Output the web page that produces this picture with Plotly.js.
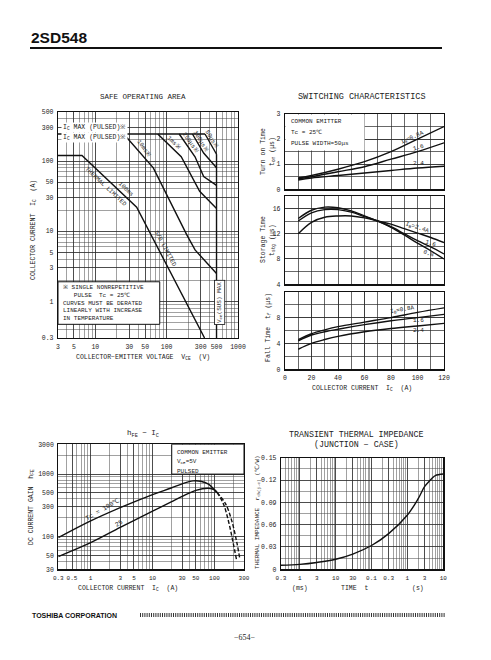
<!DOCTYPE html>
<html><head><meta charset="utf-8">
<script src="https://cdn.plot.ly/plotly-3.0.1.min.js"></script>
<style>html,body{margin:0;padding:0;background:#fff}#chart{width:491px;height:660px}</style>
</head><body><div id="chart"></div>
<script>
// ================= DATA =================
// SAFE OPERATING AREA  (V_CE in V, I_C in A)
const soaDC_V    = [3, 6.5, 38, 340];
const soaDC_I    = [120, 120, 22, 0.3];
const soa10ms_V  = [25, 65, 190, 250, 500];
const soa10ms_I  = [243, 80, 9, 5.4, 2.5];
const soa1ms_V   = [75, 160, 290, 500];
const soa1ms_I   = [243, 115, 37, 21];
const soa250us_V = [150, 250, 330, 500];
const soa250us_I = [243, 115, 60, 45];
const soa100us_V = [230, 330, 500];
const soa100us_I = [243, 130, 80];
const soa50us_V  = [345, 500];
const soa50us_I  = [243, 125];
const soaPulse_V = [3, 345];
const soaPulse_I = [243, 243];
const soaSus_V   = [500, 500];
const soaSus_I   = [0.3, 125];
const soaXTicks  = [3, 5, 10, 30, 50, 100, 300, 500, 1000];
const soaYTicks  = [0.3, 1, 3, 5, 10, 30, 50, 100, 300, 500];

// SWITCHING CHARACTERISTICS  (I_C in A)
const swTon_I   = [10, 20, 40, 60, 80, 100, 120];
const ton_08    = [0.45, 0.55, 0.80, 1.10, 1.50, 2.00, 2.50];
const ton_16    = [0.42, 0.50, 0.70, 0.90, 1.20, 1.50, 1.85];
const ton_24    = [0.37, 0.45, 0.55, 0.65, 0.75, 0.85, 0.92];
const swTstg_I  = [10, 20, 30, 40, 50, 60, 70, 80, 90, 100, 110, 120];
const tstg_08   = [14.4, 15.7, 16.2, 16.1, 15.6, 14.8, 14.0, 13.0, 11.8, 10.5, 9.3, 8.0];
const tstg_16   = [14.0, 15.3, 15.8, 15.8, 15.4, 14.7, 14.0, 13.1, 12.0, 10.9, 9.9, 8.8];
const tstg_24   = [12.0, 13.8, 14.6, 14.8, 14.8, 14.5, 14.0, 13.5, 12.8, 12.1, 11.4, 10.6];
const swTf_I    = [10, 20, 30, 40, 60, 80, 100, 120];
const tf_08     = [4.6, 5.5, 6.1, 6.6, 7.3, 8.0, 8.8, 9.5];
const tf_16     = [4.4, 5.3, 5.8, 6.2, 6.9, 7.5, 8.0, 8.5];
const tf_24     = [3.1, 4.0, 4.6, 5.1, 5.8, 6.3, 6.7, 7.1];

// hFE - IC
const hfe100_I     = [0.3, 1, 3, 10, 20, 30, 45, 60, 80, 100, 110];
const hfe100       = [96, 178, 290, 470, 600, 700, 780, 770, 690, 560, 510];
const hfe100Dash_I = [110, 140, 170, 200, 228];
const hfe100Dash   = [510, 330, 170, 80, 42];
const hfe25_I      = [0.3, 1, 3, 10, 20, 30, 50, 80, 100, 110];
const hfe25        = [48, 80, 140, 255, 360, 440, 550, 595, 560, 510];
const hfe25Dash_I  = [110, 150, 190, 230, 258];
const hfe25Dash    = [510, 340, 180, 80, 43];
const hfeXTicks    = [0.3, 0.5, 1, 3, 5, 10, 30, 50, 100, 300];
const hfeYTicks    = [30, 50, 100, 300, 500, 1000, 3000];

// TRANSIENT THERMAL IMPEDANCE  (t in s, r in C/W)
const rth_t = [0.0003, 0.001, 0.003, 0.01, 0.03, 0.1, 0.3, 1, 2, 3, 4, 5, 6, 10];
const rth   = [0.0054, 0.0066, 0.0092, 0.0135, 0.0205, 0.032, 0.048, 0.073, 0.095, 0.111, 0.118, 0.123, 0.126, 0.128];
const rthXTicks = [0.0003, 0.001, 0.003, 0.01, 0.03, 0.1, 0.3, 1, 3, 10];
const rthXText  = ["0.3", "1", "3", "10", "30", "0.1", "0.3", "1", "3", "10"];

// ================= DRAWING =================
const MONO = "Liberation Mono, DejaVu Sans Mono, monospace";
const W = 491, H = 660;
const fx = p => p / W, fy = p => 1 - p / H;
const lg = Math.log10;
function logGrid(lo, hi) {
  const out = [];
  for (let e = -5; e <= 4; e++) for (let k = 1; k < 10; k++) {
    const v = +(k * Math.pow(10, e)).toPrecision(6);
    if (v >= lo * 0.999 && v <= hi * 1.001) out.push(v);
  }
  return out;
}
function ax(extra) {
  return Object.assign({
    showline: true, mirror: true, linecolor: '#111', linewidth: 1.2, ticks: '', tickangle: 0,
    showgrid: true, gridcolor: '#2a2a2a', gridwidth: 0.7, zeroline: false,
    tickfont: {family: MONO, size: 6.5, color: '#222'}, fixedrange: true, ticklabelstandoff: 2
  }, extra);
}
const minorLog = (lo, hi) => ({tickmode: 'array', tickvals: logGrid(lo, hi), showgrid: true, gridcolor: '#444', gridwidth: 0.5, ticks: ''});
const LN = {color: '#111', width: 1.4};
function tr(x, y, xa, ya, extra) {
  return Object.assign({x: x, y: y, xaxis: xa, yaxis: ya, mode: 'lines', line: LN, hoverinfo: 'skip', showlegend: false}, extra || {});
}
const SP = Object.assign({shape: 'spline'}, LN);
const DASH = {color: '#111', width: 1.4, dash: '4px,2px', shape: 'spline'};

const traces = [
  // SOA
  tr(soaPulse_V, soaPulse_I, 'x', 'y'),
  tr(soaDC_V, soaDC_I, 'x', 'y'),
  tr(soa10ms_V, soa10ms_I, 'x', 'y'),
  tr(soa1ms_V, soa1ms_I, 'x', 'y'),
  tr(soa250us_V, soa250us_I, 'x', 'y'),
  tr(soa100us_V, soa100us_I, 'x', 'y'),
  tr(soa50us_V, soa50us_I, 'x', 'y'),
  tr(soaSus_V, soaSus_I, 'x', 'y'),
  // switching
  tr(swTon_I, ton_08, 'x2', 'y2', {line: SP}),
  tr(swTon_I, ton_16, 'x2', 'y2', {line: SP}),
  tr(swTon_I, ton_24, 'x2', 'y2', {line: SP}),
  tr(swTstg_I, tstg_08, 'x3', 'y3', {line: SP}),
  tr(swTstg_I, tstg_16, 'x3', 'y3', {line: SP}),
  tr(swTstg_I, tstg_24, 'x3', 'y3', {line: SP}),
  tr(swTf_I, tf_08, 'x4', 'y4', {line: SP}),
  tr(swTf_I, tf_16, 'x4', 'y4', {line: SP}),
  tr(swTf_I, tf_24, 'x4', 'y4', {line: SP}),
  // hFE
  tr(hfe100_I, hfe100, 'x5', 'y5', {line: SP}),
  tr(hfe100Dash_I, hfe100Dash, 'x5', 'y5', {line: DASH}),
  tr(hfe25_I, hfe25, 'x5', 'y5', {line: SP}),
  tr(hfe25Dash_I, hfe25Dash, 'x5', 'y5', {line: DASH}),
  // thermal
  tr(rth_t, rth, 'x6', 'y6', {line: SP})
];

const swX = [fx(285), fx(444)];
const linMinor = d => ({dtick: d, showgrid: true, gridcolor: '#2a2a2a', gridwidth: 0.7});
const layout = {
  width: W, height: H, margin: {l: 0, r: 0, t: 0, b: 0},
  paper_bgcolor: '#fff', plot_bgcolor: '#fff', showlegend: false,
  font: {family: MONO, color: '#222', size: 6.5},
  // SOA
  xaxis: ax({type: 'log', domain: [fx(58), fx(238)], range: [lg(3), 3], anchor: 'y',
    tickmode: 'array', tickvals: soaXTicks, ticktext: soaXTicks.map(String), minor: minorLog(3, 1000)}),
  yaxis: ax({type: 'log', domain: [fy(338), fy(112)], range: [lg(0.3), lg(500)], anchor: 'x',
    tickmode: 'array', tickvals: soaYTicks, ticktext: soaYTicks.map(String), minor: minorLog(0.3, 500)}),
  // switching top
  xaxis2: ax({domain: swX, range: [0, 120], anchor: 'y2', showticklabels: false, dtick: 10}),
  yaxis2: ax({domain: [fy(189.3), fy(114)], range: [0, 3], anchor: 'x2', tickvals: [0, 1, 2, 3], minor: linMinor(0.5)}),
  // switching mid
  xaxis3: ax({domain: swX, range: [0, 120], anchor: 'y3', showticklabels: false, dtick: 10}),
  yaxis3: ax({domain: [fy(284.3), fy(195.7)], range: [4, 18], anchor: 'x3', tickvals: [4, 8, 12, 16], minor: linMinor(2)}),
  // switching bottom
  xaxis4: ax({domain: swX, range: [0, 120], anchor: 'y4', tickvals: [0, 20, 40, 60, 80, 100, 120], minor: linMinor(10)}),
  yaxis4: ax({domain: [fy(369.3), fy(291.7)], range: [0, 12], anchor: 'x4', tickvals: [0, 4, 8], minor: linMinor(2)}),
  // hFE
  xaxis5: ax({type: 'log', domain: [fx(58.3), fx(244)], range: [lg(0.3), lg(300)], anchor: 'y5',
    tickmode: 'array', tickvals: hfeXTicks, ticktext: hfeXTicks.map(String), minor: minorLog(0.3, 300),
    tickfont: {family: MONO, size: 6, color: '#222'}}),
  yaxis5: ax({type: 'log', domain: [fy(569.3), fy(444.3)], range: [lg(30), lg(3000)], anchor: 'x5',
    tickmode: 'array', tickvals: hfeYTicks, ticktext: hfeYTicks.map(String), minor: minorLog(30, 3000)}),
  // thermal
  xaxis6: ax({type: 'log', domain: [fx(281), fx(443.3)], range: [lg(0.0003), 1], anchor: 'y6',
    tickmode: 'array', tickvals: rthXTicks, ticktext: rthXText, minor: minorLog(0.0003, 10),
    tickfont: {family: MONO, size: 6, color: '#222'}}),
  yaxis6: ax({domain: [fy(569.3), fy(457.7)], range: [0, 0.15], anchor: 'x6',
    tickvals: [0, 0.03, 0.06, 0.09, 0.12, 0.15], ticktext: ['0', '0.03', '0.06', '0.09', '0.12', '0.15'],
    minor: {dtick: 0.015, showgrid: true, gridcolor: '#444', gridwidth: 0.5}}),
  shapes: [
    // header rule
    {type: 'line', xref: 'paper', yref: 'paper', x0: fx(30), x1: fx(442), y0: fy(48), y1: fy(48), line: {color: '#111', width: 2}},
    // footer hatch
    {type: 'line', xref: 'paper', yref: 'paper', x0: fx(140), x1: fx(445), y0: fy(615), y1: fy(615), line: {color: '#333', width: 4, dash: '1px,1.2px'}},
    // SOA note box
    {type: 'rect', xref: 'x', yref: 'y', x0: 3, x1: 80, y0: 0.47, y1: 1.9, fillcolor: '#fff', line: {color: '#111', width: 1}, layer: 'between'},
    // switching text area
    {type: 'rect', xref: 'x2', yref: 'y2', x0: 0.3, x1: 60, y0: 1.55, y1: 2.98, fillcolor: '#fff', line: {width: 0}, layer: 'between'},
    // hFE text box
    {type: 'rect', xref: 'x5', yref: 'y5', x0: 20.4, x1: 300, y0: 1000, y1: 3000, fillcolor: '#fff', line: {color: '#111', width: 1}, layer: 'between'}
  ],
  annotations: []
};

const ann = layout.annotations;
function P(text, x, y, o) { ann.push(Object.assign({text: text, xref: 'paper', yref: 'paper', x: fx(x), y: fy(y), xanchor: 'center', yanchor: 'middle', showarrow: false, font: {family: MONO, size: 7, color: '#222'}}, o || {})); }
function D(text, xa, ya, x, y, o) { ann.push(Object.assign({text: text, xref: xa, yref: ya, x: x, y: y, xanchor: 'center', yanchor: 'middle', showarrow: false, font: {family: MONO, size: 6, color: '#222'}}, o || {})); }
const F = (s) => ({family: MONO, size: s, color: '#222'});

// header / footer
P('<b>2SD548</b>', 30, 47, {xanchor: 'left', yanchor: 'bottom', borderpad: 0, font: {family: 'Liberation Sans Narrow, Liberation Sans, Arial', size: 15.5, color: '#111'}});
P('<b>TOSHIBA CORPORATION</b>', 30, 615, {xanchor: 'left', font: {family: 'Liberation Sans, Arial', size: 7, color: '#111'}});
P('−654−', 245, 637, {font: {family: 'Liberation Serif, serif', size: 8, color: '#222'}});

// SOA
P('SAFE OPERATING AREA', 143, 97, {font: F(7.5)});
P('COLLECTOR−EMITTER VOLTAGE  V<sub>CE</sub>  (V)', 143, 357, {font: F(6.5)});
P('COLLECTOR CURRENT  I<sub>C</sub>  (A)', 33, 230, {textangle: -90, font: F(6.5)});
D('I<sub>C</sub> MAX (PULSED)※', 'x', 'y', lg(3.3), lg(300), {xanchor: 'left', bgcolor: '#fff', font: F(6.5)});
D('I<sub>C</sub> MAX (PULSED)※', 'x', 'y', lg(3.3), lg(218), {xanchor: 'left', bgcolor: '#fff', font: F(6.5)});
D('10ms※', 'x', 'y', lg(48), lg(150), {textangle: 54});
D('1ms※', 'x', 'y', lg(125), lg(185), {textangle: 44});
D('250μs※', 'x', 'y', lg(215), lg(185), {textangle: 55});
D('100μs※', 'x', 'y', lg(300), lg(190), {textangle: 60});
D('50μs※', 'x', 'y', lg(430), lg(205), {textangle: 60});
D('100ms', 'x', 'y', lg(27.3), lg(39.6), {textangle: 43});
D('THERMAL LIMITED', 'x', 'y', lg(14), lg(43.9), {textangle: 43});
D('S/B LIMITED', 'x', 'y', lg(95), lg(5.6), {textangle: 62});
D('V<sub>CE</sub>(SUS) MAX', 'x', 'y', lg(560), lg(0.95), {textangle: -90, bgcolor: '#fff', bordercolor: '#111', borderwidth: 0.8, borderpad: 1});
D('※ SINGLE NONREPETITIVE<br>   PULSE  Tc = 25℃<br>CURVES MUST BE DERATED<br>LINEARLY WITH INCREASE<br>IN TEMPERATURE', 'x', 'y', lg(3.3), lg(0.95),
  {xanchor: 'left', align: 'left', font: F(6)});

// Switching
P('SWITCHING CHARACTERISTICS', 362, 97, {font: F(8.5)});
P('COLLECTOR CURRENT  I<sub>C</sub>  (A)', 362, 388, {font: F(6.5)});
P('Turn on Time', 263, 152, {textangle: -90, font: F(6.5)});
P('t<sub>on</sub> (μs)', 272, 152, {textangle: -90, font: F(6.5)});
P('Storage Time', 263, 240, {textangle: -90, font: F(6.5)});
P('t<sub>stg</sub> (μs)', 272, 240, {textangle: -90, font: F(6.5)});
P('Fall Time  t<sub>f</sub> (μs)', 268, 328, {textangle: -90, font: F(6.5)});
D('COMMON EMITTER', 'x2', 'y2', 3, 2.72, {xanchor: 'left'});
D('Tc = 25℃', 'x2', 'y2', 3, 2.28, {xanchor: 'left'});
D('PULSE WIDTH=50μs', 'x2', 'y2', 3, 1.84, {xanchor: 'left'});
D('I<sub>B</sub>=0.8A', 'x2', 'y2', 96, 2.06, {textangle: -24});
D('1.6', 'x2', 'y2', 101, 1.66, {textangle: -15});
D('2.4', 'x2', 'y2', 101, 1.02);
D('I<sub>B</sub>=2.4A', 'x3', 'y3', 100, 12.9, {textangle: 18});
D('1.6', 'x3', 'y3', 110, 10.4, {textangle: 18});
D('0.8', 'x3', 'y3', 108, 8.8, {textangle: 18});
D('I<sub>B</sub>=0.8A', 'x4', 'y4', 89, 9.3, {textangle: -10});
D('1.6', 'x4', 'y4', 101, 7.5);
D('2.4', 'x4', 'y4', 101, 6.0);

// hFE
P('h<sub>FE</sub> − I<sub>C</sub>', 143, 434, {font: F(7.5)});
P('COLLECTOR CURRENT  I<sub>C</sub>  (A)', 128, 588, {font: F(6.5)});
P('DC CURRENT GAIN  h<sub>FE</sub>', 31, 507, {textangle: -90, font: F(6.5)});
P('COMMON EMITTER', 175, 452, {xanchor: 'left', font: F(6)});
P('V<sub>CE</sub>=5V', 175, 462, {xanchor: 'left', font: F(6)});
P('PULSED', 175, 471, {xanchor: 'left', font: F(6)});
D('Tc = 100℃', 'x5', 'y5', lg(1.6), lg(267), {textangle: -30, font: F(6.5)});
D('25', 'x5', 'y5', lg(2.9), lg(163), {textangle: -30, font: F(6.5)});

// Thermal
P('TRANSIENT THERMAL IMPEDANCE', 356, 434, {font: F(8.3)});
P('(JUNCTION − CASE)', 356, 445, {font: F(8.3)});
P('THERMAL IMPEDANCE  r<sub>th(j-c)</sub> (℃/W)', 257, 512, {textangle: -90, font: F(6)});
P('(ms)', 300, 588, {font: F(6.5)});
P('TIME  t', 354, 588, {font: F(6.5)});
P('(s)', 418, 588, {font: F(6.5)});

Plotly.newPlot('chart', traces, layout, {staticPlot: true, displayModeBar: false});
</script>
</body></html>
